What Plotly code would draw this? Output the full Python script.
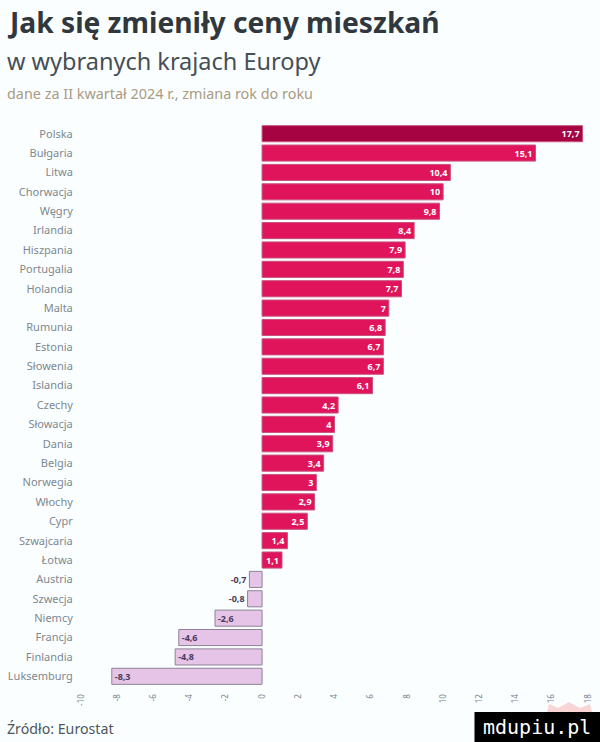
import plotly.graph_objects as go

countries = ["Polska","Bułgaria","Litwa","Chorwacja","Węgry","Irlandia","Hiszpania","Portugalia","Holandia","Malta",
             "Rumunia","Estonia","Słowenia","Islandia","Czechy","Słowacja","Dania","Belgia","Norwegia","Włochy",
             "Cypr","Szwajcaria","Łotwa","Austria","Szwecja","Niemcy","Francja","Finlandia","Luksemburg"]
values = [17.7,15.1,10.4,10,9.8,8.4,7.9,7.8,7.7,7,6.8,6.7,6.7,6.1,4.2,4,3.9,3.4,3,2.9,2.5,1.4,1.1,-0.7,-0.8,-2.6,-4.6,-4.8,-8.3]
tick_values = list(range(-10, 20, 2))

W, H = 600, 742
L, R, T, B = 81, 588, 124, 686
FONT = "Noto Sans"
BG = "#fbfeff"

def bar_color(c, v):
    if c == "Polska":
        return "#a50342"
    return "#e0145a" if v > 0 else "#e6c4e8"

px = lambda x: (x-L)/(R-L)
py = lambda y: (B-y)/(B-T)

labels = [f"{v:g}".replace(".", ",") for v in values]
fig = go.Figure(go.Bar(
    x=values, y=countries, orientation="h",
    marker=dict(color=[bar_color(c, v) for c, v in zip(countries, values)],
                line=dict(color=["#c9517f" if v > 0 else "#8d8399" for v in values], width=1)),
    text=labels,
    textposition=["outside" if -1 < v < 0 else "inside" for v in values],
    insidetextanchor="end",
    textangle=0,
    constraintext="none",
    cliponaxis=False,
    textfont=dict(family=FONT, size=9, weight="bold",
                  color=["#ffffff" if v > 0 else "#4a3a5c" for v in values]),
))

def note(text, x, y, size, color, family=FONT, anchor="left"):
    return dict(text=text, x=px(x), y=py(y), xref="paper", yref="paper", xanchor=anchor, yanchor="middle",
                showarrow=False, font=dict(family=family, size=size, color=color), borderpad=0, borderwidth=0)

fig.update_layout(
    width=W, height=H, autosize=False,
    margin=dict(l=L, r=W-R, t=T, b=H-B, pad=0, autoexpand=False),
    paper_bgcolor=BG, plot_bgcolor=BG,
    bargap=0.17, showlegend=False,
    xaxis=dict(range=[-10, 18], tickmode="array", tickvals=tick_values, automargin=False,
               ticktext=[str(t) for t in tick_values], tickangle=-90,
               showgrid=False, zeroline=False, showline=False, ticks="outside",
               ticklen=4, tickcolor="rgba(0,0,0,0)",
               tickfont=dict(family=FONT, size=8, color="#77808a")),
    yaxis=dict(categoryorder="array", categoryarray=countries, autorange="reversed", automargin=False,
               showgrid=False, zeroline=False, showline=False, ticks="outside",
               ticklen=5, tickcolor="rgba(0,0,0,0)",
               tickfont=dict(family=FONT, size=11, color="#7d8890")),
    annotations=[
        note("<b>Jak się zmieniły ceny mieszkań</b>", 7, 22, 28.2, "#30383e"),
        note("w wybranych krajach Europy", 7, 61, 23.5, "#454f55"),
        note("dane za II kwartał 2024 r., zmiana rok do roku", 7, 93, 14.4, "#a89b82"),
        note("Źródło: Eurostat", 7, 728, 14.2, "#4c565c"),
        note("mdupiu.pl", 537, 727, 20, "#ffffff", "DejaVu Sans Mono", "center"),
    ],
    shapes=[
        dict(type="path", xref="paper", yref="paper", layer="below", line_width=0, fillcolor="#f9d5d5",
             path=f"M{px(547)},{py(712)} L{px(549)},{py(704)} L{px(558)},{py(708)} L{px(569)},{py(702)} "
                  f"L{px(580)},{py(708)} L{px(590)},{py(704)} L{px(592)},{py(712)} Z"),
        dict(type="rect", xref="paper", yref="paper", x0=px(474.5), x1=px(600), y0=py(742), y1=py(712),
             fillcolor="#000000", line_width=0, layer="below"),
    ],
)

fig.write_html("out.html", config=dict(displayModeBar=False),
               post_script=f"document.body.style.margin='0';document.body.style.background='{BG}';document.documentElement.style.overflow='hidden';")
